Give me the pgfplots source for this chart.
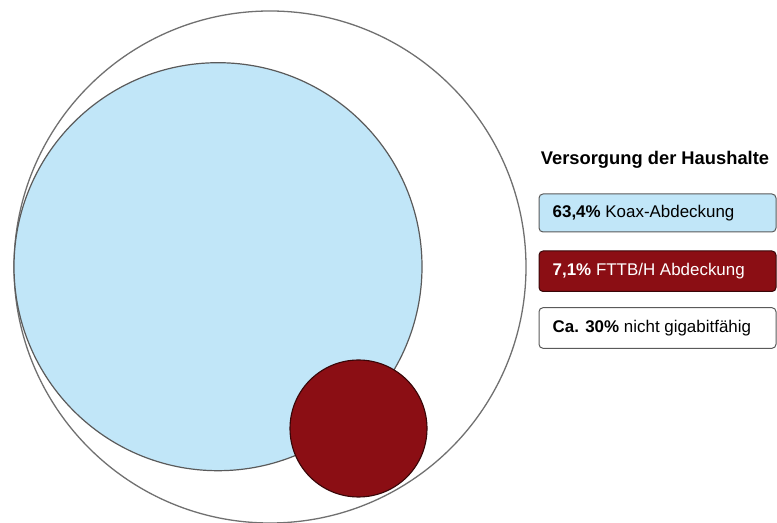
\documentclass[border=0pt]{standalone}
\usepackage{pgfplots}
\pgfplotsset{compat=1.18}
\usepackage{fontspec}
\setmainfont{Liberation Sans}
\definecolor{koax}{RGB}{193,230,248}
\definecolor{fttb}{RGB}{139,14,20}
\definecolor{outl}{RGB}{112,112,112}
\definecolor{boxl}{RGB}{90,90,90}
\begin{document}
\begin{tikzpicture}
\begin{axis}[scale only axis, width=777bp, height=520bp,
  xmin=0, xmax=777, ymin=0, ymax=520,
  axis line style={draw=none}, ticks=none, clip=true]
% outer circle: all households (100%)
\addplot[only marks, mark=*, mark size=256bp,
  mark options={fill=white, draw=outl, line width=1.3bp}] coordinates {(270,253)};
% coax coverage 63,4%
\addplot[only marks, mark=*, mark size=204bp,
  mark options={fill=koax, draw=boxl, line width=1.2bp}] coordinates {(218,253.3)};
% FTTB/H coverage 7,1%
\addplot[only marks, mark=*, mark size=68.5bp,
  mark options={fill=fttb, draw=black!60!fttb, line width=1.1bp}] coordinates {(358.5,91.5)};

\node[font=\bfseries\fontsize{18.4}{20}\selectfont, anchor=center] at (axis cs:655,360) {Versorgung der Haushalte};

\draw[rounded corners=4bp, fill=koax, draw=boxl, line width=1bp] (axis cs:539,326) rectangle (axis cs:776,288);
\draw[rounded corners=4bp, fill=fttb, draw=black!60!fttb, line width=1bp] (axis cs:539,269) rectangle (axis cs:776,228.5);
\draw[rounded corners=4bp, fill=white, draw=boxl, line width=1bp] (axis cs:539,212.3) rectangle (axis cs:776,171.7);

\node[font=\fontsize{17}{19}\selectfont, anchor=west, inner sep=0pt] at (axis cs:552.5,307) {\textbf{63,4\%} Koax-Abdeckung};
\node[font=\fontsize{17}{19}\selectfont, anchor=west, inner sep=0pt, text=white] at (axis cs:552.5,248.75) {\textbf{7,1\%} FTTB/H Abdeckung};
\node[font=\fontsize{17}{19}\selectfont, anchor=west, inner sep=0pt] at (axis cs:552.5,192) {\textbf{Ca. 30\%} nicht gigabitfähig};
\end{axis}
\end{tikzpicture}
\end{document}
